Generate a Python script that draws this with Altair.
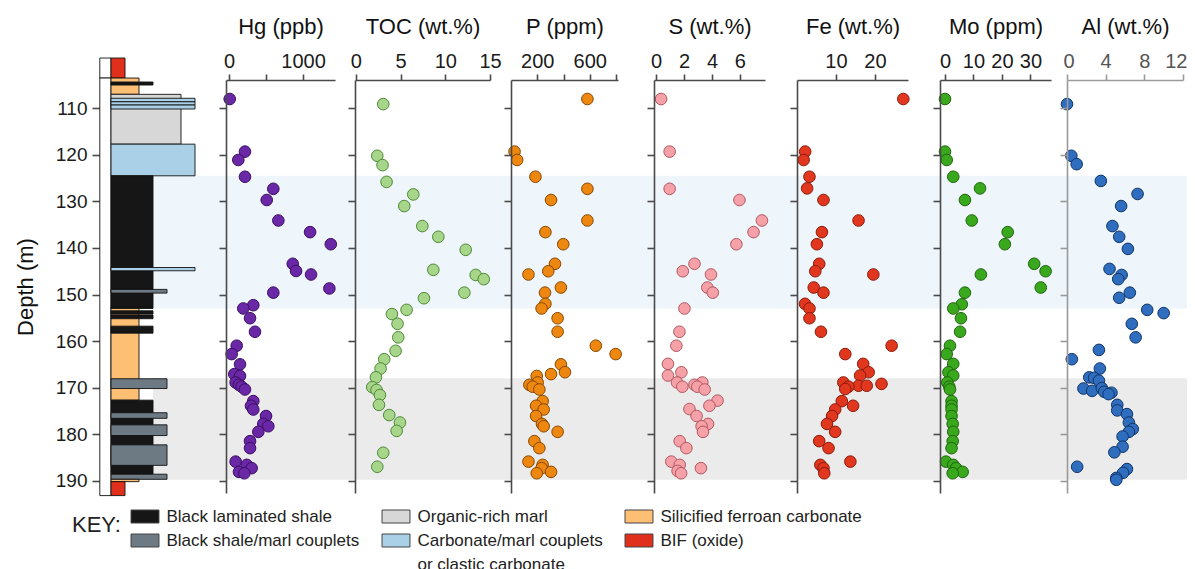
import altair as alt
import pandas as pd

FONT = "Liberation Sans"

# ---------------- data ----------------
depth_ticks = [110, 120, 130, 140, 150, 160, 170, 180, 190]
band_blue = [124.5, 153.0]
band_gray = [168.0, 189.8]

BLS = "Black laminated shale"
ORM = "Organic-rich marl"
SFC = "Silicified ferroan carbonate"
BSM = "Black shale/marl couplets"
CMC = "Carbonate/marl couplets"
BIF = "BIF (oxide)"
CORE = "core"
GAP = " "
CMC2 = "or clastic carbonate"
litho_names = [BLS, ORM, SFC, BSM, CMC, BIF, GAP, CMC2, CORE]
litho_colors = ["#161616", "#d7d7d7", "#fdbf74", "#6d7a84", "#a9d0e6", "#e0301c",
                "transparent", "transparent", "#ffffff"]
litho_width = {BIF: 1, SFC: 2, BLS: 3, BSM: 4, ORM: 5, CMC: 6, CORE: 0}
litho_top = [99.2, 103.5, 99.2, 103.5, 104.35, 107.0, 107.85, 108.6, 109.3, 117.7, 124.5, 144.2,
             148.9, 152.6, 152.6, 153.5, 154.4, 156.8, 158.3, 168.1, 172.7, 175.4, 178.0, 182.3,
             188.6, 189.7, 190.2]
litho_bottom = [103.5, 193.2, 103.5, 107.0, 105.0, 117.7, 108.6, 109.3, 110.15, 124.5, 152.6, 144.9,
                149.7, 158.3, 153.0, 154.2, 155.2, 158.3, 172.7, 170.2, 188.6, 176.6, 180.3, 186.7,
                189.7, 190.2, 193.2]
litho_type = [CORE, CORE, BIF, SFC, BLS, ORM, CMC, CMC, CMC, CMC, BLS, CMC,
              BSM, SFC, BLS, BLS, BLS, BLS, SFC, BSM, BLS, BSM, BSM, BSM,
              BSM, SFC, BIF]

hg_depth = [108.0, 119.3, 121.1, 124.7, 127.3, 129.7, 134.1, 136.6, 139.2, 143.4, 144.95, 145.7, 148.7,
            149.6, 152.3, 153.0, 155.1, 158.0, 161.0, 162.8, 165.0, 167.1, 167.5, 168.9, 169.4, 169.8,
            170.4, 172.9, 173.9, 174.7, 176.1, 177.8, 178.3, 179.5, 181.5, 183.0, 185.9, 186.6, 187.3,
            188.1, 188.4]
hg_ppb = [10, 216, 126, 216, 598, 509, 666, 1094, 1373, 860, 905, 1107, 1354,
          598, 328, 193, 284, 351, 104, 36, 149, 72, 149, 90, 135, 171,
          216, 328, 297, 328, 500, 463, 531, 396, 284, 284, 90, 239, 306,
          135, 207]

toc_depth = [109.1, 120.2, 122.2, 125.8, 128.5, 131.0, 135.3, 137.6, 140.4, 144.7, 145.8, 146.7, 149.6,
             150.8, 153.3, 154.2, 156.3, 159.2, 162.1, 163.9, 165.9, 167.8, 169.9, 170.5, 171.6, 173.7,
             175.9, 177.5, 179.3, 184.0, 187.0]
toc_wt = [3.06, 2.39, 2.98, 3.43, 6.42, 5.41, 7.43, 9.22, 12.28, 8.66, 13.4, 14.3, 12.13,
          7.61, 5.67, 4.03, 4.66, 4.74, 4.44, 3.17, 2.76, 2.24, 1.83, 2.31, 2.69, 2.58,
          3.73, 4.93, 4.56, 3.06, 2.39]

p_depth = [108.0, 119.3, 121.1, 124.7, 127.3, 129.7, 134.1, 136.6, 139.2, 143.4, 145.0, 145.7, 148.5,
           149.6, 152.0, 153.0, 155.1, 158.0, 161.0, 162.8, 165.0, 166.7, 167.1, 167.5, 168.9, 169.4,
           169.8, 170.4, 172.9, 173.9, 174.7, 176.1, 177.8, 178.3, 179.5, 181.5, 183.0, 185.9, 186.6,
           187.3, 188.1, 188.4]
p_ppm = [582, 27, 47, 186, 582, 305, 582, 262, 398, 335, 284, 133, 380,
         259, 262, 233, 355, 355, 646, 797, 380, 411, 305, 196, 203, 140,
         165, 216, 241, 191, 249, 191, 236, 249, 355, 178, 216, 133, 241,
         233, 305, 196]

s_depth = [108.0, 119.3, 127.3, 129.7, 134.1, 136.6, 139.2, 143.4, 145.0, 145.7, 148.5, 149.6, 153.0,
           158.0, 161.0, 164.9, 166.7, 167.4, 168.9, 168.9, 169.4, 169.8, 169.8, 170.4, 172.8, 173.9,
           174.6, 176.1, 177.8, 178.3, 179.5, 181.5, 183.0, 185.9, 186.6, 187.3, 187.9, 188.4]
s_wt = [0.36, 0.97, 0.97, 5.97, 7.58, 6.98, 5.75, 2.75, 1.91, 3.93, 3.67, 4.06, 2.03,
        1.67, 1.45, 0.85, 1.81, 0.85, 1.5, 3.31, 2.75, 1.88, 2.95, 3.48, 4.4, 3.82,
        2.39, 2.9, 3.72, 3.26, 3.36, 1.69, 2.17, 1.09, 1.69, 3.21, 1.54, 1.79]

fe_depth = [108.0, 119.3, 121.1, 124.7, 127.2, 129.7, 134.1, 136.6, 139.2, 143.4, 145.0, 145.7, 148.5,
            149.6, 152.0, 153.0, 155.1, 158.0, 161.0, 162.8, 164.9, 166.7, 167.4, 168.9, 169.2, 169.6,
            169.6, 169.8, 170.3, 172.9, 173.9, 174.7, 176.1, 177.8, 179.5, 181.5, 183.0, 185.9, 186.6,
            187.3, 188.4]
fe_wt = [27.3, 2.1, 1.7, 3.2, 2.6, 6.8, 15.8, 6.4, 5.1, 5.7, 4.7, 19.6, 4.3,
         6.8, 2.05, 3.2, 3.2, 6.15, 24.3, 12.4, 17.0, 18.4, 16.2, 11.9, 21.7, 15.8,
         17.9, 13.2, 12.4, 11.5, 14.4, 9.8, 9.0, 7.7, 9.8, 5.7, 8.1, 13.7, 6.0,
         6.8, 7.0]

mo_depth = [108.0, 119.3, 121.1, 124.7, 127.2, 129.7, 134.1, 136.6, 139.2, 143.4, 145.0, 145.7, 148.5,
            149.6, 152.1, 153.0, 155.1, 158.0, 161.0, 162.8, 164.9, 166.7, 167.4, 168.9, 169.8, 170.4,
            172.9, 173.9, 174.7, 176.1, 177.8, 179.5, 181.5, 183.0, 185.9, 186.6, 187.3, 188.1, 188.4]
mo_ppm = [0, 0, 0.6, 2.9, 12.3, 7.0, 9.4, 22.0, 21.0, 31.3, 35.3, 12.6, 33.6,
          7.0, 5.9, 2.9, 5.6, 5.3, 1.75, 0.6, 2.9, 1.2, 2.9, 0.8, 1.5, 1.75,
          2.3, 2.3, 2.3, 2.3, 2.7, 2.9, 2.7, 2.3, 0.35, 2.9, 3.9, 6.2, 2.7]

al_depth = [109.1, 120.2, 122.0, 125.6, 128.4, 131.0, 135.3, 137.6, 140.2, 144.5, 145.8, 146.7, 149.6,
            150.7, 153.3, 154.0, 156.3, 159.2, 161.9, 163.9, 165.9, 167.8, 167.9, 168.5, 170.2, 170.7,
            170.1, 170.9, 171.1, 171.4, 173.7, 174.9, 175.7, 177.5, 178.9, 179.5, 180.5, 182.7, 183.9,
            187.0, 187.5, 188.3, 189.4, 189.8]
al_wt = [0, 0.45, 1.0, 3.5, 7.3, 5.6, 4.7, 5.4, 6.3, 4.4, 5.65, 5.3, 6.5,
         5.4, 8.3, 10.0, 6.7, 7.1, 3.3, 0.5, 3.4, 2.3, 2.8, 3.3, 1.7, 2.6,
         3.6, 3.85, 4.6, 4.3, 5.2, 5.2, 6.2, 6.4, 6.8, 6.4, 5.75, 5.75, 4.9,
         1.05, 6.2, 5.8, 5.1, 5.1]

# ---------------- layout helpers ----------------
W, H = 1085, 413
YDOM = [103.92, 192.64]
yscale = alt.Scale(domain=YDOM, reverse=True, nice=False, zero=False)
AX = "#4a4a4a"


def panel(depth, vals, title, domain, rng, ticks, hide, fill, stroke, left, axcol=AX,
          labcol="#1a1a1a", flush=False):
    df = pd.DataFrame({"depth": depth, "v": vals})
    xkw = dict(orient="top", title=title, values=ticks, labelFlush=flush, labelOverlap=False,
               format="d", tickSize=6, labelPadding=3, labelFontSize=20, labelFont=FONT,
               labelColor=labcol, titleFontSize=22, titleFont=FONT, titleFontWeight="normal",
               titleColor="#111", titlePadding=13, domainColor=axcol, tickColor=axcol,
               domainWidth=1.6, tickWidth=1.6, grid=False, zindex=1)
    if flush:
        xkw["labelFlushOffset"] = 4
    if hide:
        cond = " || ".join("datum.value == %s" % h for h in hide)
        xkw["labelExpr"] = "(%s) ? '' : datum.label" % cond
    yax = alt.Axis(orient="left", offset=-(left - 100), values=depth_ticks, labels=False,
                   tickSize=7, domainColor=axcol, tickColor=axcol, domainWidth=1.6, tickWidth=1.6,
                   grid=False, zindex=1)
    return alt.Chart(df).mark_circle(size=135, opacity=1, color=fill, stroke=stroke,
                                     strokeWidth=1).encode(
        x=alt.X("v:Q", scale=alt.Scale(domain=domain, range=rng, nice=False, zero=False),
                axis=alt.Axis(**xkw)),
        y=alt.Y("depth:Q", scale=yscale, axis=yax, title=None),
    )


def rel(a, b):
    return [a - 100, b - 100]


# background bands
bands = []
for (t, b), col in [(band_blue, "#eef5fb"), (band_gray, "#ebebeb")]:
    bdf = pd.DataFrame({"top": [t], "bottom": [b]})
    bands.append(alt.Chart(bdf).mark_rect(color=col).encode(
        x=alt.value(53), x2=alt.value(W + 2),
        y=alt.Y("top:Q", scale=yscale, axis=None), y2="bottom:Q"))

# lithology column
ldf = pd.DataFrame({"top": litho_top, "bottom": litho_bottom, "type": litho_type})
ldf["x0"] = [-0.8 if t == CORE else 0 for t in litho_type]
ldf["x1"] = [litho_width[t] for t in litho_type]
ldf["order"] = range(len(ldf))

legend_order = [BLS, ORM, SFC, BSM, CMC, BIF, GAP, CMC2]
stroke_expr = "(datum.label == ' ' || datum.label == 'or clastic carbonate') ? 'transparent' : '#444'"
litho = alt.Chart(ldf).mark_rect(stroke="#111", strokeWidth=0.9, opacity=1).encode(
    x=alt.X("x0:Q", scale=alt.Scale(domain=[0, 6], range=[11, 95], nice=False, zero=False), axis=None),
    x2="x1:Q",
    y=alt.Y("top:Q", scale=yscale,
            axis=alt.Axis(orient="left", values=depth_ticks, domain=False, tickSize=8, tickColor=AX,
                          tickWidth=1.6, labelFontSize=19, labelFont=FONT, labelColor="#1a1a1a",
                          labelPadding=5, title="Depth (m)", titleFontSize=22, titleFont=FONT,
                          titleFontWeight="normal", titleColor="#111", titlePadding=18, grid=False)),
    y2="bottom:Q",
    color=alt.Color("type:N", scale=alt.Scale(domain=litho_names, range=litho_colors),
                    legend=alt.Legend(values=legend_order, orient="none", legendX=-28, legendY=428,
                                      direction="horizontal", columns=3, columnPadding=20,
                                      rowPadding=6, padding=0, gridAlign="each",
                                      symbolType="M-2.15,-1H2.15V1H-2.15Z", symbolSize=169,
                                      symbolOffset=7.5,
                                      symbolStrokeColor=alt.ExprRef(expr=stroke_expr),
                                      symbolStrokeWidth=1, symbolOpacity=1,
                                      labelFont=FONT, labelFontSize=17, labelColor="#222",
                                      labelOffset=13, labelLimit=400,
                                      title="KEY:", titleOrient="left", titleFont=FONT,
                                      titleFontSize=22, titleFontWeight="normal", titleColor="#222",
                                      titlePadding=8, titleAnchor="start",
                                      titleBaseline="line-top", titleLineHeight=36)),
    order="order:Q",
)

panels = [
    panel(hg_depth, hg_ppb, "Hg (ppb)", [-40, 1430], rel(226, 335), [0, 500, 1000], [500],
          "#6a27a6", "#3a0f63", 226),
    panel(toc_depth, toc_wt, "TOC (wt.%)", [-0.1, 15], rel(355, 490), [0, 5, 10, 15], [],
          "#a7d68b", "#4c8a34", 355),
    panel(p_depth, p_ppm, "P (ppm)", [0, 815], rel(511, 618), [200, 400, 600, 800], [400, 800],
          "#ee870f", "#864700", 511),
    panel(s_depth, s_wt, "S (wt.%)", [-0.15, 7.8], rel(654, 765), [0, 2, 4, 6], [],
          "#f5a1a7", "#b0585f", 654),
    panel(fe_depth, fe_wt, "Fe (wt.%)", [0, 28.5], rel(797, 908), [10, 20], [],
          "#e2371f", "#8a1a0b", 797),
    panel(mo_depth, mo_ppm, "Mo (ppm)", [-1.75, 37.2], rel(940, 1051), [0, 10, 20, 30], [],
          "#3aa81d", "#1d660b", 940),
    panel(al_depth, al_wt, "Al (wt.%)", [0, 12], rel(1067, 1183), [0, 4, 8, 12], [],
          "#2f6dbf", "#0f3566", 1067, axcol="#9a9a9a", labcol="#555", flush=True),
]

chart = alt.layer(*bands, litho, *panels).resolve_scale(
    x="independent", color="independent"
).resolve_axis(x="independent", y="independent").properties(
    width=W, height=H,
    autosize=alt.AutoSizeParams(type="none"),
    padding={"left": 92, "top": 72, "right": 2, "bottom": 76},
).configure_view(strokeWidth=0).configure_axis(grid=False)

chart.save("out.html", embed_options={"renderer": "svg", "actions": False})
